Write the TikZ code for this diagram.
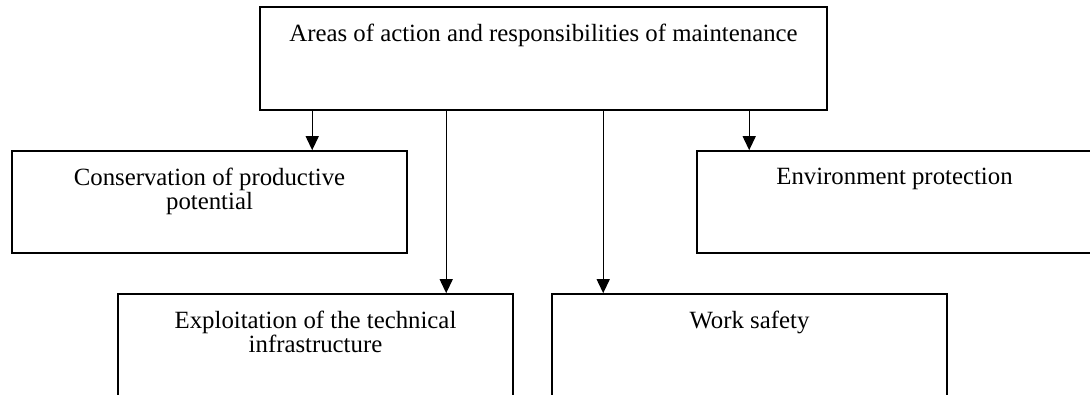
\documentclass[tikz,border=0pt]{standalone}
\usepackage{fontspec}
\setmainfont{Liberation Serif}
\usetikzlibrary{arrows.meta,positioning}
\tikzset{areabox/.style={draw, line width=1.6pt, inner sep=0pt,
        minimum width=395pt, minimum height=102pt},
    areatext/.style={anchor=north, inner sep=0pt, align=center,
        font=\fontsize{24.8}{24.5}\selectfont},
    resparrow/.style={line width=1.3pt, -{Triangle[length=14pt,width=13pt]}},
    }
\begin{document}
\begin{tikzpicture}[x=1pt,y=-1pt]
\useasboundingbox (0,0) rectangle (1090,395);
\clip (0,0) rectangle (1090,395);
% boxes
\node[areabox, minimum width=567pt, minimum height=103pt] (top) at (543.5,58.5) {};
\node[areabox] (cons) at (209.5,202) {};
\node[areabox] (env) at (894.5,202) {};
\node[areabox] (expl) at (315.5,345) {};
\node[areabox] (safe) at (749.5,345) {};
% texts
\node[areatext, below=17.5pt of top.north] (toptext)
    {Areas of action and responsibilities of maintenance};
\node[areatext, below=17.5pt of cons.north] (constext)
    {Conservation of productive\\potential};
\node[areatext, below=17.5pt of env.north] (envtext)
    {Environment protection};
\node[areatext, below=17.5pt of expl.north] (expltext)
    {Exploitation of the technical\\infrastructure};
\node[areatext, below=17.5pt of safe.north] (safetext)
    {Work safety};
% arrows
\draw[resparrow] ([xshift=53pt]top.south west) coordinate (a1) -- (a1 |- cons.north);
\draw[resparrow] ([xshift=187pt]top.south west) coordinate (a2) -- (a2 |- expl.north);
\draw[resparrow] ([xshift=344pt]top.south west) coordinate (a3) -- (a3 |- safe.north);
\draw[resparrow] ([xshift=490pt]top.south west) coordinate (a4) -- (a4 |- env.north);
\end{tikzpicture}
\end{document}
